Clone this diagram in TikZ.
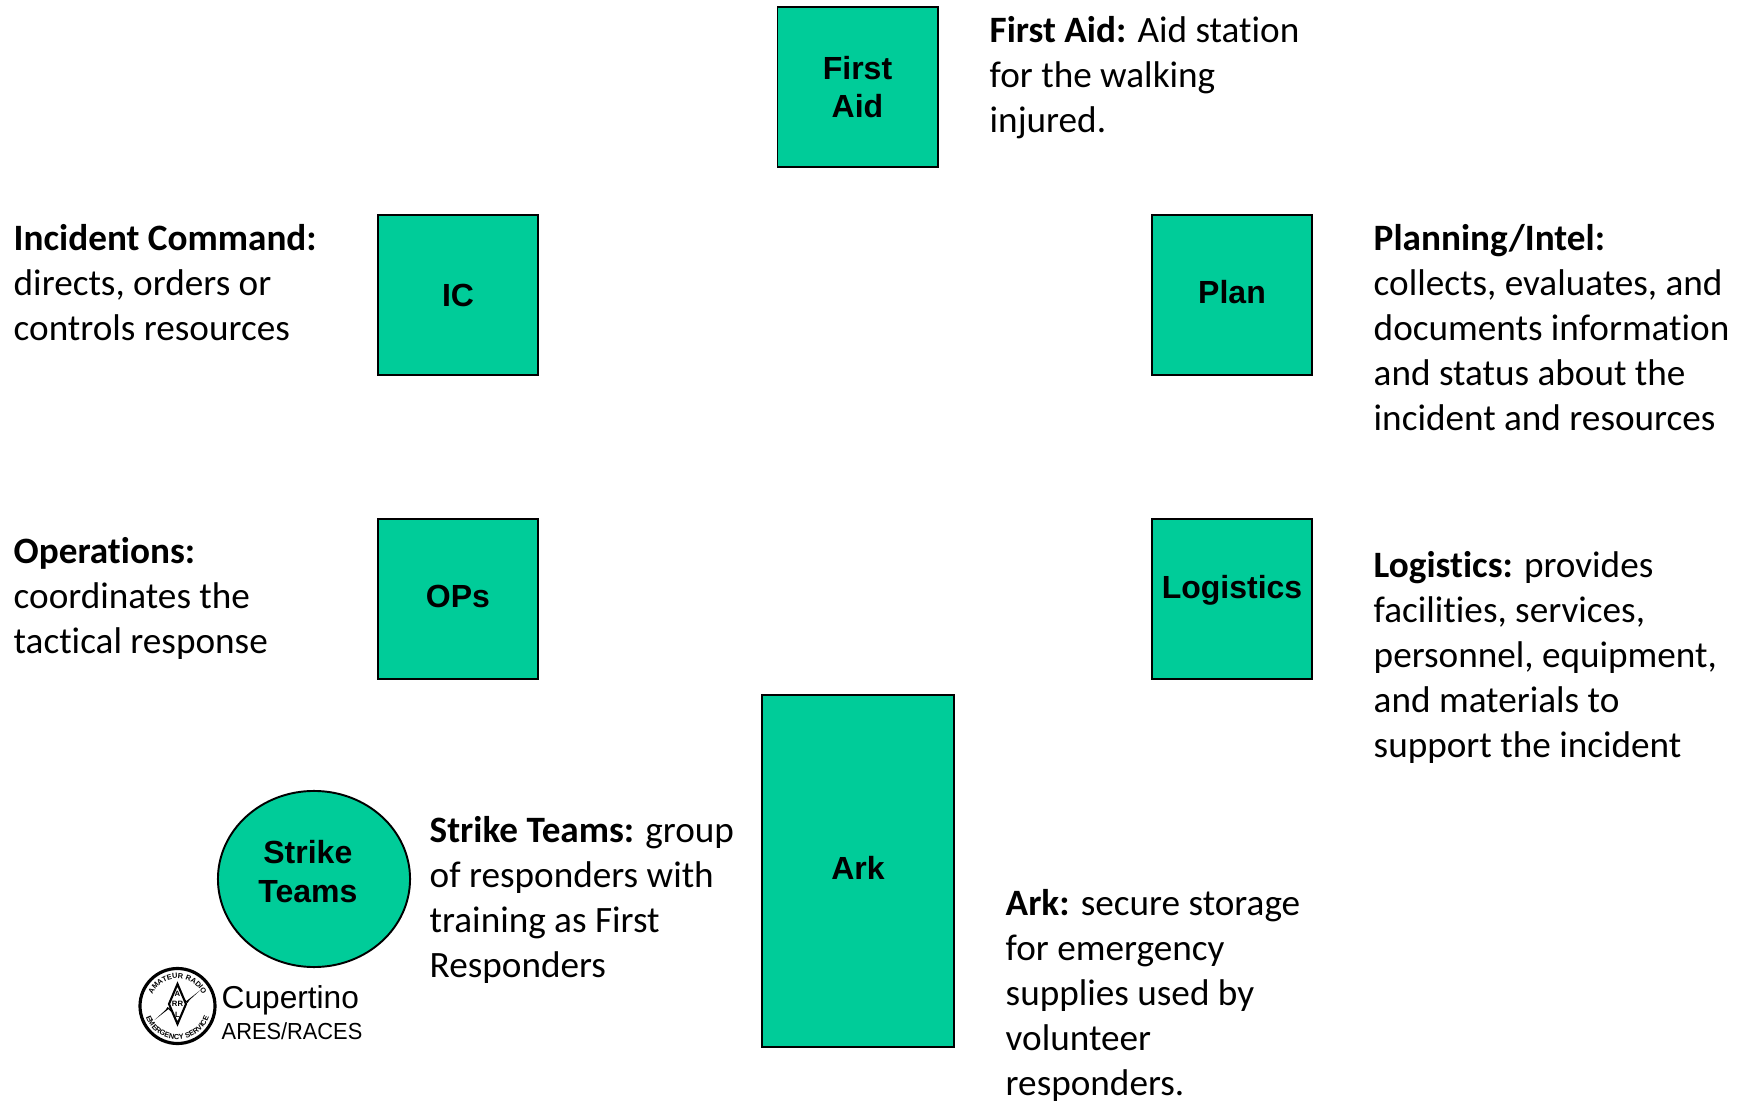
\documentclass[tikz,border=0pt]{standalone}
\usepackage{fontspec}
\setmainfont[Ligatures=NoCommon]{Carlito}
\newfontfamily\boxfont{Liberation Sans}
\usetikzlibrary{decorations.text,shapes.geometric}
\definecolor{boxgreen}{HTML}{00CC99}
\tikzset{
  x=0.01cm,y=-0.01cm,
  squarebox/.style={draw=black,line width=0.55pt,fill=boxgreen,inner sep=0pt,minimum width=1.6cm,minimum height=1.6cm,
    font=\boxfont\fontsize{9.1}{10.8}\selectfont\bfseries,align=center},
  arkbox/.style={squarebox,minimum width=1.92cm,minimum height=3.52cm},
  roundbox/.style={squarebox,ellipse,minimum width=1.92cm,minimum height=1.76cm},
  desc/.style={anchor=north west,inner sep=0pt,align=left,font=\fontsize{10.58}{12.75}\selectfont},
  logotext/.style={decorate,decoration={text along path,text align=center,text={|\boxfont\fontsize{2.1}{3}\selectfont\bfseries|#1}}},
}
\begin{document}
\begin{tikzpicture}
\useasboundingbox (0,0) rectangle (1746,1101);
\node[squarebox] (first) at (857.5,87) {First\\Aid};
\node[squarebox] (ic) at (458,295) {IC};
\node[squarebox] (plan) at (1232,295) {\raisebox{1.6pt}{Plan}};
\node[squarebox] (ops) at (458,599) {\raisebox{1.25pt}{OPs}};
\node[squarebox] (logi) at (1232,599) {\raisebox{6.95pt}{Logistics}};
\node[arkbox] (ark) at (858,871) {\raisebox{1.9pt}{Ark}};
\node[roundbox] (strike) at (314,879) {\raisebox{4.2pt}{\shortstack{Strike\\[1.7pt]Teams}}\hspace{3.5pt}};
\node[desc] (tfirst) at (989,16) {\textbf{First Aid: }Aid station\\for the walking\\injured.};
\node[desc] (tic) at (13,224) {\textbf{Incident Command:}\\directs, orders or\\controls resources};
\node[desc] (tplan) at (1373,224) {\textbf{Planning/Intel:}\\collects, evaluates, and\\documents information\\and status about the\\incident and resources};
\node[desc] (tops) at (13,537) {\textbf{Operations:}\\coordinates the\\tactical response};
\node[desc] (tlogi) at (1373,551) {\textbf{Logistics: }provides\\facilities, services,\\personnel, equipment,\\and materials to\\support the incident};
\node[desc] (tstrike) at (429,816) {\textbf{Strike Teams: }group\\of responders with\\training as First\\Responders};
\node[desc] (tark) at (1005,889) {\textbf{Ark: }secure storage\\for emergency\\supplies used by\\volunteer\\responders.};
\node[anchor=base west,inner sep=0pt,font=\boxfont\fontsize{9}{10}\selectfont] (cup) at (221,1008) {Cupertino};
\node[anchor=base west,inner sep=0pt,font=\boxfont\fontsize{6.6}{8}\selectfont] (ares) at (221,1039) {\scalebox{0.94}[1]{ARES/RACES}};
\begin{scope}[shift={(177.5,1006)},x=0.01cm,y=0.01cm]
\draw[line width=0.9pt,fill=white] (0,0) circle (37.5);
\path[logotext={AMATEUR RADIO}] (-27.5,0) arc (180:0:27.5);
\path[logotext={EMERGENCY SERVICE}] (-33.5,0) arc (180:360:33.5);
\fill (-23,-14) -- (-9,-3) -- (-6,-6) -- (-7,-3) -- (-10,-1) -- (-12,-4) -- cycle;
\fill (23,16) -- (9,5) -- (6,8) -- (7,5) -- (10,3) -- (12,6) -- cycle;
\draw[line width=0.6pt,fill=white] (0,22) -- (8.5,2) -- (0,-18) -- (-8.5,2) -- cycle;
\node[inner sep=0pt,align=center,font=\boxfont\fontsize{2.2}{3}\selectfont\bfseries] (arrl) at (0,2) {A\\RR\\L};
\end{scope}
\end{tikzpicture}
\end{document}
